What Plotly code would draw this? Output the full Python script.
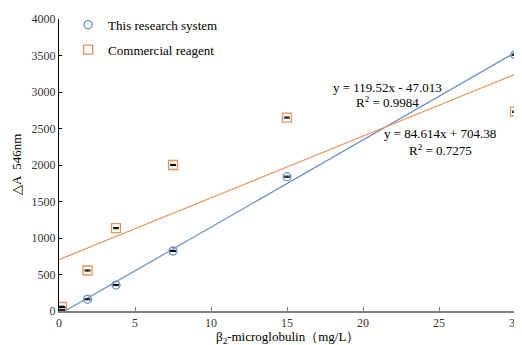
import plotly.graph_objects as go

# Data
conc = [0.2, 1.875, 3.75, 7.5, 15, 30]
research_vals = [15, 160, 355, 822, 1840, 3510]
commercial_vals = [55, 555, 1135, 2000, 2650, 2730]
research_err = [8, 8, 8, 8, 8, 8]
commercial_err = [8, 8, 8, 8, 8, 8]

research_fit = (119.52, -47.013)
commercial_fit = (84.614, 704.38)
fit_x = [0, 30]

blue = "#6A8DC8"
orange = "#E8925A"
font_family = "Liberation Serif, Times New Roman, serif"

fig = go.Figure()

fig.add_trace(go.Scatter(
    x=fit_x, y=[research_fit[0] * v + research_fit[1] for v in fit_x],
    mode="lines", line=dict(color=blue, width=1.2), showlegend=False, hoverinfo="skip"))
fig.add_trace(go.Scatter(
    x=fit_x, y=[commercial_fit[0] * v + commercial_fit[1] for v in fit_x],
    mode="lines", line=dict(color=orange, width=1.2), showlegend=False, hoverinfo="skip"))

fig.add_trace(go.Scatter(
    x=conc, y=research_vals, mode="markers", name="This research system",
    legendgroup="a",
    marker=dict(symbol="circle-open", size=8, color=blue, line=dict(width=1.3)),
    error_y=dict(type="data", array=research_err, color="black", thickness=1, width=3)))
fig.add_trace(go.Scatter(
    x=conc, y=commercial_vals, mode="markers", name="Commercial reagent",
    legendgroup="b",
    marker=dict(symbol="square-open", size=9, color=orange, line=dict(width=1.3)),
    error_y=dict(type="data", array=commercial_err, color="black", thickness=1, width=3)))

ann_font = dict(family=font_family, size=13, color="black")
annotations = [
    dict(x=21.58, y=3068, text="y = 119.52x - 47.013"),
    dict(x=21.58, y=2863, text="R<sup>2</sup> = 0.9984"),
    dict(x=25.07, y=2425, text="y = 84.614x + 704.38"),
    dict(x=25.07, y=2205, text="R<sup>2</sup> = 0.7275"),
]
for a in annotations:
    fig.add_annotation(x=a["x"], y=a["y"], text=a["text"], xref="x", yref="y",
                       showarrow=False, font=ann_font, xanchor="center", yanchor="middle")

# axis titles
fig.add_annotation(x=0.5, y=0, xref="paper", yref="paper", yshift=-26,
                   text="β<sub>2</sub>-microglobulin（mg/L）", showarrow=False,
                   font=ann_font, xanchor="center", yanchor="middle")
fig.add_annotation(x=0, y=0.5, xref="paper", yref="paper", xshift=-43,
                   text="△A  546nm", showarrow=False, textangle=-90,
                   font=ann_font, xanchor="center", yanchor="middle")

# page body has an 8px default margin, so the figure is 8px smaller
fig.update_layout(
    width=514, height=337,
    margin=dict(l=51, r=7, t=11, b=34, autoexpand=False),
    paper_bgcolor="white", plot_bgcolor="white",
    font=dict(family=font_family, size=12, color="#333"),
    showlegend=True,
    legend=dict(x=0.02, y=0.995, xref="paper", yref="container",
                xanchor="left", yanchor="top",
                bgcolor="rgba(0,0,0,0)", font=dict(size=13, color="black"),
                tracegroupgap=5, itemwidth=30),
    xaxis=dict(range=[0, 30], dtick=5, showgrid=False, zeroline=False, automargin=False,
               showline=True, linecolor="#808080", linewidth=2,
               ticks="inside", ticklen=4, tickcolor="#808080", tickwidth=1),
    yaxis=dict(range=[0, 4000], dtick=500, showgrid=False, zeroline=False, automargin=False,
               showline=True, linecolor="black", linewidth=1,
               ticks="inside", ticklen=3, tickcolor="black"),
)

fig.write_html("out.html")
